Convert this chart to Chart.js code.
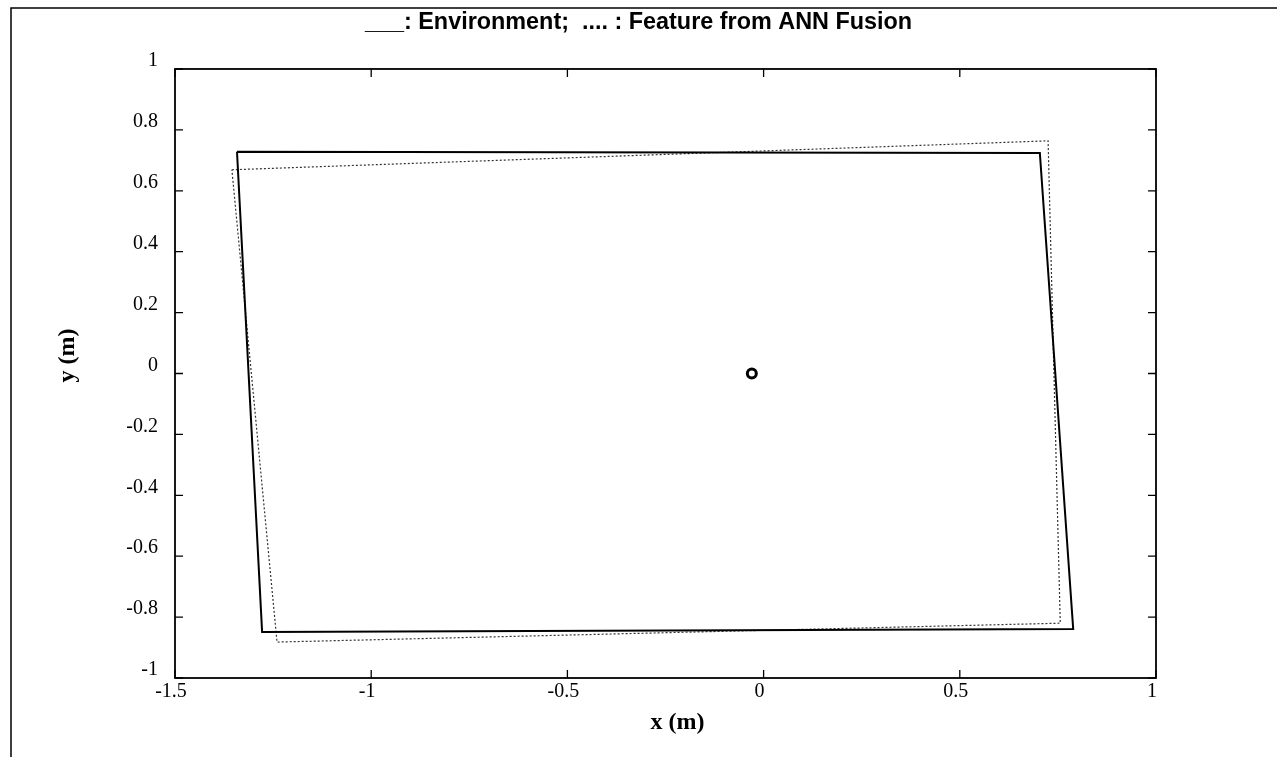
<!DOCTYPE html>
<html><head><meta charset="utf-8">
<script src="https://cdn.jsdelivr.net/npm/chart.js@4/dist/chart.umd.min.js"></script>
<style>html,body{margin:0;padding:0;background:#fff;overflow:hidden;}</style>
</head><body>
<canvas id="c" width="1277" height="757"></canvas>
<script>
const titleText = '___: Environment;  .... : Feature from ANN Fusion';
const xAxisTitle = 'x (m)';
const yAxisTitle = 'y (m)';
// Environment (solid) polygon
const envX = [-1.342, 0.704, 0.789, -1.278, -1.342];
const envY = [0.728, 0.724, -0.839, -0.849, 0.728];
// Feature from ANN fusion (dotted) polygon
const featX = [-1.355, 0.725, 0.756, -1.240, -1.355];
const featY = [0.669, 0.764, -0.820, -0.882, 0.669];
// Robot position marker
const robotX = [-0.03];
const robotY = [0.0];
// Ticks
const xTickValues = [-1.5, -1, -0.5, 0, 0.5, 1];
const xTickLabels = ['-1.5', '-1', '-0.5', '0', '0.5', '1'];
const yTickValues = [-1, -0.8, -0.6, -0.4, -0.2, 0, 0.2, 0.4, 0.6, 0.8, 1];
const yTickLabels = ['-1', '-0.8', '-0.6', '-0.4', '-0.2', '0', '0.2', '0.4', '0.6', '0.8', '1'];

const toPts = (xs, ys) => xs.map((x, i) => ({x: x, y: ys[i]}));

const framePlugin = {
  id: 'frame',
  beforeDraw(chart) {
    const ctx = chart.ctx;
    ctx.save();
    ctx.fillStyle = '#fff';
    ctx.fillRect(0, 0, chart.width, chart.height);
    ctx.strokeStyle = '#000';
    ctx.lineWidth = 1.5;
    ctx.beginPath();
    ctx.moveTo(11, 757);
    ctx.lineTo(11, 8);
    ctx.lineTo(1277, 8);
    ctx.stroke();
    ctx.restore();
  },
  afterDraw(chart) {
    const {ctx, chartArea: a, scales: {x, y}} = chart;
    ctx.save();
    ctx.strokeStyle = '#000';
    ctx.lineWidth = 1.8;
    ctx.strokeRect(a.left, a.top, a.right - a.left, a.bottom - a.top);
    ctx.lineWidth = 1.3;
    ctx.beginPath();
    const L = 8;
    xTickValues.forEach(v => {
      const px = x.getPixelForValue(v);
      ctx.moveTo(px, a.bottom); ctx.lineTo(px, a.bottom - L);
      ctx.moveTo(px, a.top); ctx.lineTo(px, a.top + L);
    });
    yTickValues.forEach(v => {
      const py = y.getPixelForValue(v);
      ctx.moveTo(a.left, py); ctx.lineTo(a.left + L, py);
      ctx.moveTo(a.right, py); ctx.lineTo(a.right - L, py);
    });
    ctx.stroke();
    ctx.restore();
  }
};

new Chart(document.getElementById('c'), {
  type: 'scatter',
  data: {
    datasets: [
      {
        label: 'Environment',
        data: toPts(envX, envY),
        showLine: true,
        borderColor: '#000',
        borderWidth: 2,
        pointRadius: 0,
        tension: 0,
        fill: false
      },
      {
        label: 'Feature from ANN Fusion',
        data: toPts(featX, featY),
        showLine: true,
        borderColor: '#333',
        borderWidth: 1.2,
        borderDash: [2, 2],
        pointRadius: 0,
        tension: 0,
        fill: false
      },
      {
        label: 'Robot',
        data: toPts(robotX, robotY),
        showLine: false,
        pointStyle: 'circle',
        pointRadius: 4.5,
        borderWidth: 3,
        borderColor: '#000',
        backgroundColor: '#fff'
      }
    ]
  },
  options: {
    responsive: false,
    animation: false,
    devicePixelRatio: 1,
    layout: {padding: {left: 0, right: 0, top: 0, bottom: 0}},
    plugins: {
      legend: {display: false},
      tooltip: {enabled: false},
      title: {
        display: true,
        text: titleText,
        color: '#000',
        font: {family: '"Liberation Sans", Arial, sans-serif', size: 23.4, weight: 'bold', lineHeight: 1.2},
        padding: {top: 9, bottom: 31.9}
      }
    },
    scales: {
      x: {
        type: 'linear',
        min: -1.5, max: 1,
        afterBuildTicks: s => { s.ticks = xTickValues.map(v => ({value: v})); },
        afterFit: s => { s.height = 79; },
        grid: {display: false, drawTicks: false},
        border: {display: false},
        ticks: {
          autoSkip: false, maxRotation: 0, padding: 2, labelOffset: -4,
          color: '#000',
          font: {family: '"Liberation Serif", "Times New Roman", serif', size: 20},
          callback: (v, i) => xTickLabels[i]
        },
        title: {
          display: true, text: '    ' + xAxisTitle, color: '#000',
          font: {family: '"Liberation Serif", "Times New Roman", serif', size: 24, weight: 'bold', lineHeight: 1.2},
          padding: {top: 0, bottom: 19.6}
        }
      },
      y: {
        type: 'linear',
        min: -1, max: 1,
        afterBuildTicks: s => { s.ticks = yTickValues.map(v => ({value: v})); },
        afterFit: s => { s.width = 175; },
        grid: {display: false, drawTicks: false},
        border: {display: false},
        ticks: {
          autoSkip: false, padding: 17, labelOffset: -8,
          color: '#000',
          font: {family: '"Liberation Serif", "Times New Roman", serif', size: 20},
          callback: (v, i) => yTickLabels[i]
        },
        title: {
          display: true, text: '      ' + yAxisTitle, color: '#000',
          font: {family: '"Liberation Serif", "Times New Roman", serif', size: 24, weight: 'bold', lineHeight: 1.2},
          padding: {top: 53.6, bottom: 0}
        }
      },
      yRight: {
        type: 'linear',
        position: 'right',
        min: -1, max: 1,
        afterFit: s => { s.width = 121; },
        grid: {display: false, drawTicks: false},
        border: {display: false},
        ticks: {display: false}
      }
    }
  },
  plugins: [framePlugin]
});
</script>
</body></html>
